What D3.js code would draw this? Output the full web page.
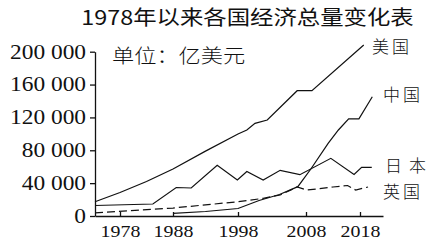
<!DOCTYPE html>
<html><head><meta charset="utf-8">
<script src="https://cdn.jsdelivr.net/npm/d3@7/dist/d3.min.js"></script>
<style>html,body{margin:0;padding:0;background:#fff;}svg{display:block;}</style>
</head><body>
<svg id="c" width="439" height="240"></svg>
<script>
const title = "1978年以来各国经济总量变化表";
const unitLabel = "单位：亿美元";
const xTicks = [1978, 1988, 1998, 2008, 2018];
const yTicks = [0, 40000, 80000, 120000, 160000, 200000];

const usYears  = [1973, 1978, 1983, 1988, 1993, 1998, 1999.3, 2000.5, 2002.3, 2006.7, 2009.1, 2018.7];
const usValues = [17400, 28600, 42000, 57300, 79000, 99800, 104700, 112800, 116900, 152500, 152500, 208200];

const cnYears  = [1988, 1993, 1998, 2001.1, 2004.1, 2006.8, 2008.9, 2012.1, 2014, 2015.9, 2017.8, 2020.3];
const cnValues = [3300, 5500, 9100, 18900, 26200, 35700, 57200, 88500, 104700, 118300, 118300, 145200];

const jpYears  = [1973, 1984.2, 1988.5, 1990.8, 1994.8, 1997.9, 1999.3, 2001.7, 2004.2, 2007.1, 2012.6, 2016.9, 2018.3, 2020.2];
const jpValues = [12800, 14600, 34700, 34100, 61700, 43800, 54200, 43800, 55600, 50300, 70200, 50500, 59300, 59300];

const ukYears  = [1973, 1988, 1998, 2001.7, 2004.2, 2006.7, 2008.2, 2013, 2015.7, 2017.2, 2019.5];
const ukValues = [3900, 9700, 17400, 21500, 25600, 35300, 31600, 35300, 37100, 31600, 35300];

const seriesNames = ["美国", "中国", "日本", "英国"];

const SX = 1.17; // horizontal text stretch of the reference
const svg = d3.select("#c");
svg.append("rect").attr("width",439).attr("height",240).attr("fill","#fff");

const x = d3.scaleLinear()
  .domain([1973, 1978, 1988, 1998, 2008, 2018, 2022.3])
  .range([95, 120, 173, 238, 306, 360, 383]);
const y = d3.scaleLinear().domain([0, 200000]).range([216, 51.7]);

const serif = "'Liberation Serif','DejaVu Serif',serif";
const cjk = "'Noto Sans CJK SC','Noto Sans CJK JP',sans-serif";

// title
svg.append("text").text(title)
  .attr("transform", `translate(247.5,25) scale(${SX},1)`)
  .attr("text-anchor","middle")
  .style("font-family", cjk).style("font-size","20px").style("font-weight","400")
  .attr("fill","#111");

// axes
const fmt = d3.formatLocale({decimal:".", thousands:" ", grouping:[3], currency:["",""]}).format(",");
const gy = svg.append("g").attr("transform","translate(95,0)")
  .call(d3.axisLeft(y).tickValues(yTicks).tickFormat(fmt).tickSizeInner(5).tickSizeOuter(0).tickPadding(4));
gy.selectAll("text")
  .attr("x", -9/SX)
  .attr("transform", `scale(${SX},1)`)
  .style("font-family", serif).style("font-size","20px").attr("fill","#111");

const gx = svg.append("g").attr("transform","translate(0,216)")
  .call(d3.axisBottom(x).tickValues(xTicks).tickFormat(d3.format("d")).tickSizeInner(-4).tickSizeOuter(0).tickPadding(9));
gx.selectAll("text")
  .attr("transform", `scale(${SX},1)`)
  .style("font-family", serif).style("font-size","17px").attr("fill","#111");
svg.selectAll(".domain, .tick line").attr("stroke","#111").attr("stroke-width",1.3);

// unit label
svg.append("text").text(unitLabel)
  .attr("transform", `translate(112,62.5) scale(${SX},1)`)
  .style("font-family", cjk).style("font-size","19px").style("font-weight","300")
  .attr("fill","#111");

// lines
const line = d3.line().x(d => x(d[0])).y(d => y(d[1]));
const series = [
  {years: usYears, values: usValues, dash: null},
  {years: cnYears, values: cnValues, dash: null},
  {years: jpYears, values: jpValues, dash: null},
  {years: ukYears, values: ukValues, dash: "8,4"}
];
series.forEach(s => {
  svg.append("path")
    .datum(d3.zip(s.years, s.values))
    .attr("d", line)
    .attr("fill","none")
    .attr("stroke","#111")
    .attr("stroke-width",1.2)
    .attr("stroke-dasharray", s.dash);
});

// series labels
const labelPos = [[372,53,3],[383,101,3],[385,172,7],[383,198,3]];
seriesNames.forEach((n,i) => {
  svg.append("text").text(n)
    .attr("x", labelPos[i][0]).attr("y", labelPos[i][1])
    .style("letter-spacing", labelPos[i][2] + "px")
    .style("font-family", cjk).style("font-size","17px").style("font-weight","300")
    .attr("fill","#111");
});
</script>
</body></html>
